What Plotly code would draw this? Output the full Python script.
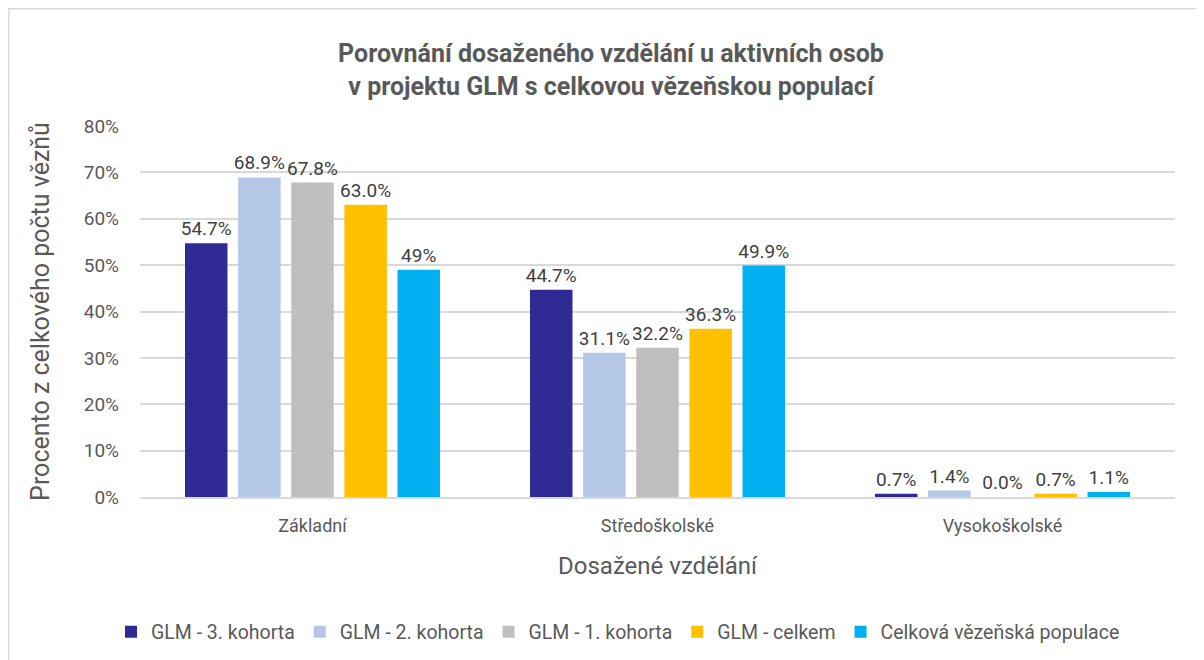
import plotly.graph_objects as go

categories = ["Základní", "Středoškolské", "Vysokoškolské"]
series_names = [
    "GLM - 3. kohorta",
    "GLM - 2. kohorta",
    "GLM - 1. kohorta",
    "GLM - celkem",
    "Celková vězeňská populace",
]
glm3 = [54.7, 44.7, 0.7]
glm2 = [68.9, 31.1, 1.4]
glm1 = [67.8, 32.2, 0.0]
glm_total = [63.0, 36.3, 0.7]
population = [49.0, 49.9, 1.1]
population_labels = ["49%", "49.9%", "1.1%"]

colors = ["#302A94", "#B4C7E7", "#BFBFBF", "#FFC000", "#00B0F0"]

# stránka má okraj 8 px, proto je graf o 8 px menší
W, H = 1196, 652
L, R, T, B = 132, 29, 118, 163

fig = go.Figure()

all_series = [glm3, glm2, glm1, glm_total, population]
for i, (name, vals) in enumerate(zip(series_names, all_series)):
    if i == 4:
        labels = population_labels
    else:
        labels = [f"{v:.1f}%" for v in vals]
    fig.add_trace(
        go.Bar(
            name=name,
            x=categories,
            y=vals,
            marker=dict(color=colors[i], line=dict(width=0)),
            text=labels,
            textposition="outside",
            constraintext="none",
            textfont=dict(size=19, color="#404040"),
            cliponaxis=False,
        )
    )


def px_x(p):
    return (p - L) / (W - L - R)


def px_y(p):
    return (H - B - p) / (H - T - B)


# rámeček grafu (jen levá a horní hrana jsou vidět)
fig.add_shape(
    type="rect",
    xref="paper",
    yref="paper",
    x0=px_x(0.75),
    x1=px_x(1230),
    y0=px_y(690),
    y1=px_y(0.75),
    line=dict(color="#D9D9D9", width=1.5),
    fillcolor="rgba(0,0,0,0)",
    layer="below",
)

fig.update_layout(
    width=W,
    height=H,
    margin=dict(l=L, r=R, t=T, b=B, autoexpand=False),
    paper_bgcolor="white",
    plot_bgcolor="white",
    font=dict(family="Roboto, sans-serif", color="#595959"),
    title=dict(
        text="<b>Porovnání dosaženého vzdělání u aktivních osob<br>v projektu GLM s celkovou vězeňskou populací</b>",
        x=603 / W,
        xanchor="center",
        xref="container",
        y=1 - 54 / H,
        yanchor="middle",
        font=dict(size=25, color="#595959"),
    ),
    barmode="group",
    bargap=0.23,
    bargroupgap=0.2,
    showlegend=True,
    legend=dict(
        orientation="h",
        x=px_x(610),
        xanchor="center",
        y=px_y(624),
        yanchor="middle",
        font=dict(size=19.5, color="#595959"),
        itemwidth=30,
        traceorder="normal",
    ),
    xaxis=dict(
        title=dict(text="Dosažené vzdělání", font=dict(size=24, color="#595959"), standoff=22),
        tickfont=dict(size=18, color="#595959"),
        ticklabelstandoff=12,
        tickangle=0,
        showline=True,
        linecolor="#D9D9D9",
        linewidth=1.5,
        ticks="",
    ),
    yaxis=dict(
        title=dict(text="Procento z celkového počtu vězňů", font=dict(size=25, color="#595959"), standoff=26),
        range=[0, 80],
        dtick=10,
        ticksuffix="%",
        tickfont=dict(size=19, color="#595959"),
        ticklabelstandoff=20,
        gridcolor="#D9D9D9",
        gridwidth=1.5,
        zeroline=False,
        ticks="",
    ),
)

fig.write_html("out.html")
